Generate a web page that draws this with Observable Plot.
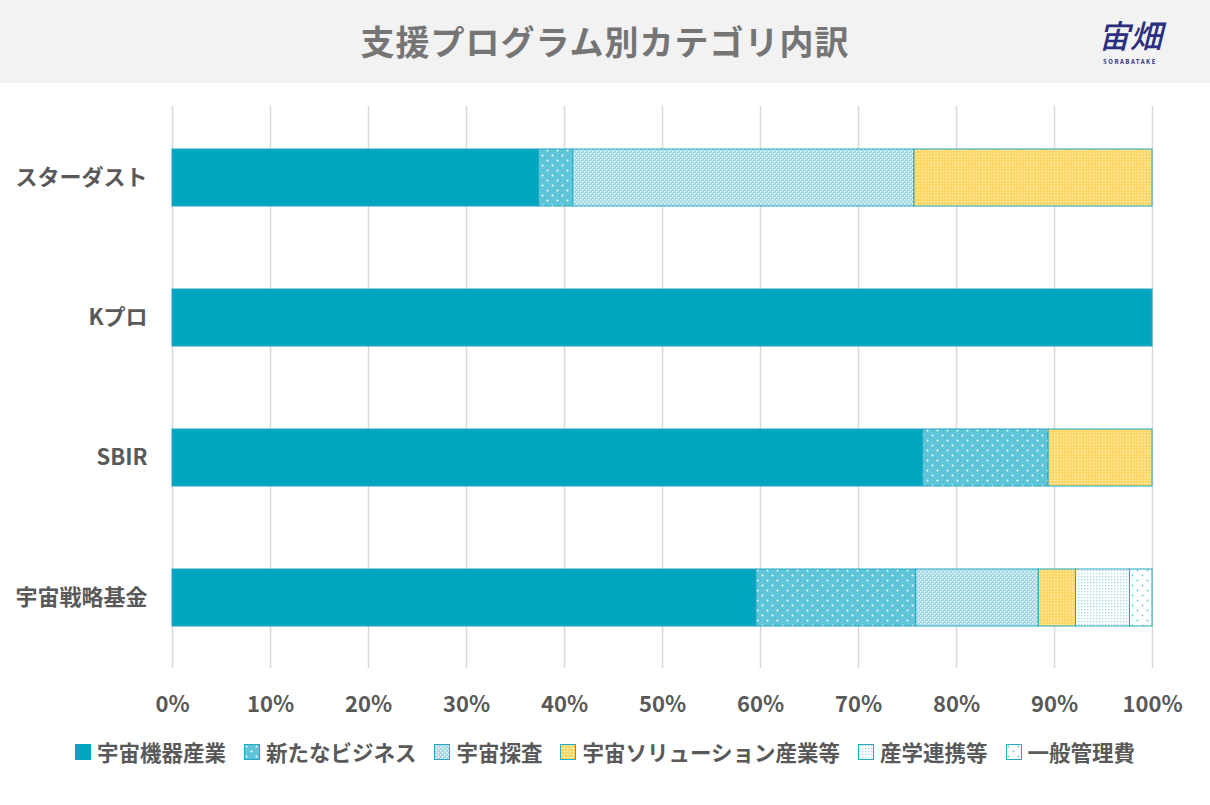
<!DOCTYPE html>
<html>
<head>
<meta charset="utf-8">
<script src="https://cdn.jsdelivr.net/npm/d3@7"></script>
<script src="https://cdn.jsdelivr.net/npm/@observablehq/plot@0.6"></script>
<style>
  html, body { margin: 0; padding: 0; background: #fff; }
  body { width: 1210px; height: 805px; position: relative; overflow: hidden;
         font-family: "Noto Sans CJK JP", "Noto Sans", sans-serif; }
  #header { position: absolute; left: 0; top: 0; width: 1210px; height: 83px; background: #f2f2f2; }
  #title { position: absolute; left: 0; width: 1210px; top: 17px; text-align: center;
           font-size: 34px; line-height: 48px; font-weight: 700; color: #757575; letter-spacing: 1px; }
  #logo-k { position: absolute; left: 1090px; top: 14px; width: 80px; text-align: center; color: #2b2f7f;
            font-size: 32px; font-weight: 500; line-height: 40px; font-style: italic; }
  #logo-s { position: absolute; left: 1090px; top: 58px; width: 80px; text-align: center; color: #2b2f7f;
            font-size: 6px; font-weight: 700; letter-spacing: 1.5px; line-height: 8px; }
  #chart { position: absolute; left: 0; top: 83px; }
  #legend { position: absolute; left: 0; width: 1210px; top: 736px; display: flex; justify-content: center;
            gap: 18px; font-size: 21.5px; font-weight: 700; color: #595959; }
  #legend .it { display: flex; align-items: center; gap: 6px; }
  #legend svg { display: block; }
</style>
</head>
<body>
<svg width="0" height="0" style="position:absolute">
  <defs>
    <pattern id="p-new" width="10" height="10" patternUnits="userSpaceOnUse">
      <rect width="10" height="10" fill="#5ec4d7"/>
      <circle cx="2.5" cy="2.5" r="1" fill="#ffffff"/>
      <circle cx="7.5" cy="7.5" r="1" fill="#ffffff"/>
    </pattern>
    <pattern id="p-exp" width="4" height="4" patternUnits="userSpaceOnUse">
      <rect width="4" height="4" fill="#9fd9e6"/>
      <rect x="0" y="0" width="1.4" height="1.4" fill="#ffffff"/>
      <rect x="2" y="2" width="1.4" height="1.4" fill="#ffffff"/>
    </pattern>
    <pattern id="p-sol" width="3" height="3" patternUnits="userSpaceOnUse">
      <rect width="3" height="3" fill="#fdd86a"/>
      <rect x="1" y="1" width="1" height="1" fill="#fff4c8"/>
    </pattern>
    <pattern id="p-ind" width="3" height="3" patternUnits="userSpaceOnUse">
      <rect width="3" height="3" fill="#ffffff"/>
      <rect x="1" y="1" width="1.3" height="1.3" fill="#a5dae6"/>
    </pattern>
    <pattern id="p-gen" width="10" height="10" patternUnits="userSpaceOnUse">
      <rect width="10" height="10" fill="#ffffff"/>
      <circle cx="2.5" cy="2.5" r="0.9" fill="#6cc6d8"/>
      <circle cx="7.5" cy="7.5" r="0.9" fill="#6cc6d8"/>
    </pattern>
  </defs>
</svg>
<div id="header">
  <div id="title">支援プログラム別カテゴリ内訳</div>
  <div id="logo-k">宙畑</div>
  <div id="logo-s">SORABATAKE</div>
</div>
<div id="chart"></div>
<div id="legend"></div>
<script>
const programs = ["スターダスト", "Kプロ", "SBIR", "宇宙戦略基金"];
const categories = ["宇宙機器産業", "新たなビジネス", "宇宙探査", "宇宙ソリューション産業等", "産学連携等", "一般管理費"];
const fills = ["#00a6bf", "url(#p-new)", "url(#p-exp)", "url(#p-sol)", "url(#p-ind)", "url(#p-gen)"];
const stardust = [37.4, 3.5, 34.8, 24.3, 0, 0];
const kpro = [100, 0, 0, 0, 0, 0];
const sbir = [76.6, 12.8, 0, 10.6, 0, 0];
const senryaku = [59.6, 16.3, 12.5, 3.8, 5.5, 2.3];
const xTicks = [0, 0.1, 0.2, 0.3, 0.4, 0.5, 0.6, 0.7, 0.8, 0.9, 1.0];

const series = [stardust, kpro, sbir, senryaku];
const rows = [];
programs.forEach((p, i) => {
  categories.forEach((c, j) => {
    if (series[i][j] > 0) rows.push({program: p, category: c, value: series[i][j] / 100});
  });
});

const plot = Plot.plot({
  width: 1210,
  height: 640,
  marginLeft: 172,
  marginRight: 58,
  marginTop: 23,
  marginBottom: 55,
  style: {fontFamily: '"Noto Sans CJK JP", sans-serif', fontSize: "21px", fontWeight: 700, color: "#595959", background: "transparent"},
  x: {domain: [0, 1], ticks: xTicks, tickFormat: d => Math.round(d * 100) + "%", label: null},
  y: {domain: programs, paddingInner: 0.594, paddingOuter: 0.3, label: null},
  color: {domain: categories, range: fills, type: "ordinal"},
  marks: [
    Plot.gridX(xTicks, {stroke: "#d9d9d9", strokeOpacity: 1, strokeWidth: 1.5}),
    Plot.barX(rows, Plot.stackX({x: "value", y: "program", fill: "category", order: categories, stroke: "#22a8c0", strokeWidth: 1, inset: 0})),
    Plot.axisX(xTicks, {tickSize: 0, tickPadding: 28, tickFormat: d => Math.round(d * 100) + "%", fill: "#595959", fontSize: 22, fontWeight: 700}),
    Plot.axisY({tickSize: 0, tickPadding: 25, fill: "#595959", fontSize: 22, fontWeight: 700})
  ]
});
document.getElementById("chart").appendChild(plot);

const legend = document.getElementById("legend");
categories.forEach((c, j) => {
  const it = document.createElement("div");
  it.className = "it";
  const sw = j === 0
    ? `<svg width="16" height="16"><rect x="0" y="0" width="16" height="16" fill="${fills[j]}"/></svg>`
    : `<svg width="16" height="16"><rect x="0.5" y="0.5" width="15" height="15" fill="${fills[j]}" stroke="#22a8c0" stroke-width="1"/></svg>`;
  it.innerHTML = sw + `<span>${c}</span>`;
  legend.appendChild(it);
});
</script>
</body>
</html>
